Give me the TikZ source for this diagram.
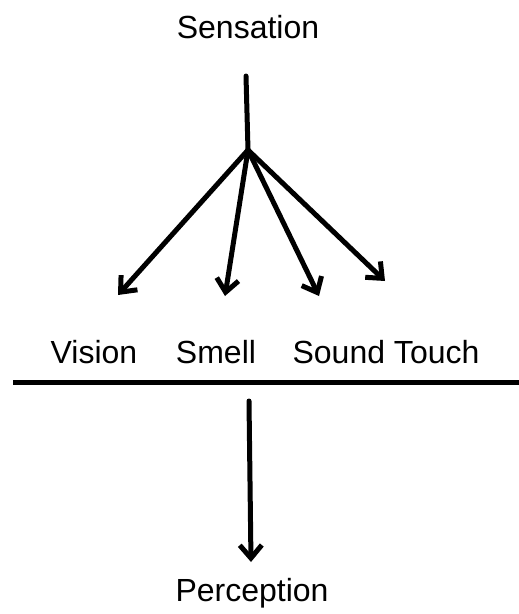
\documentclass[tikz,border=0pt]{standalone}
\usepackage{fontspec}
\setmainfont{Liberation Sans}
\usetikzlibrary{arrows.meta}
\begin{document}
\begin{tikzpicture}[x=1pt,y=-1pt,
  lbl/.style={inner sep=0pt,font=\fontsize{32}{38}\selectfont},
  ln/.style={line width=5pt,line cap=round},
  arr/.style={ln,-{Straight Barb[length=13pt,width=22pt,line width=5pt]}}]
\useasboundingbox (0,0) rectangle (519,614);
\node[lbl] (sens) at (248,27) {Sensation};
\coordinate (top) at (246,76);
\coordinate (j) at (248,150);
\node[lbl] (vis) at (94,352) {Vision};
\node[lbl] (sme) at (216,352) {Smell};
\node[lbl] (st) at (386,352) {Sound Touch};
\coordinate (tv) at (118,295);
\coordinate (ts) at (225,296);
\coordinate (tso) at (319,296);
\coordinate (tt) at (385,281);
\draw[ln] (top) -- (j);
\draw[arr] (j) -- (tv);
\draw[arr] (j) -- (ts);
\draw[arr] (j) -- (tso);
\draw[arr] (j) -- (tt);
\coordinate (hl) at (13,382);
\coordinate (hr) at (519,382);
\draw[line width=5pt] (hl) -- (hr);
\coordinate (ds) at (249,401);
\coordinate (de) at (251,562);
\draw[arr] (ds) -- (de);
\node[lbl] (perc) at (252,593) {Perception};
\end{tikzpicture}
\end{document}
